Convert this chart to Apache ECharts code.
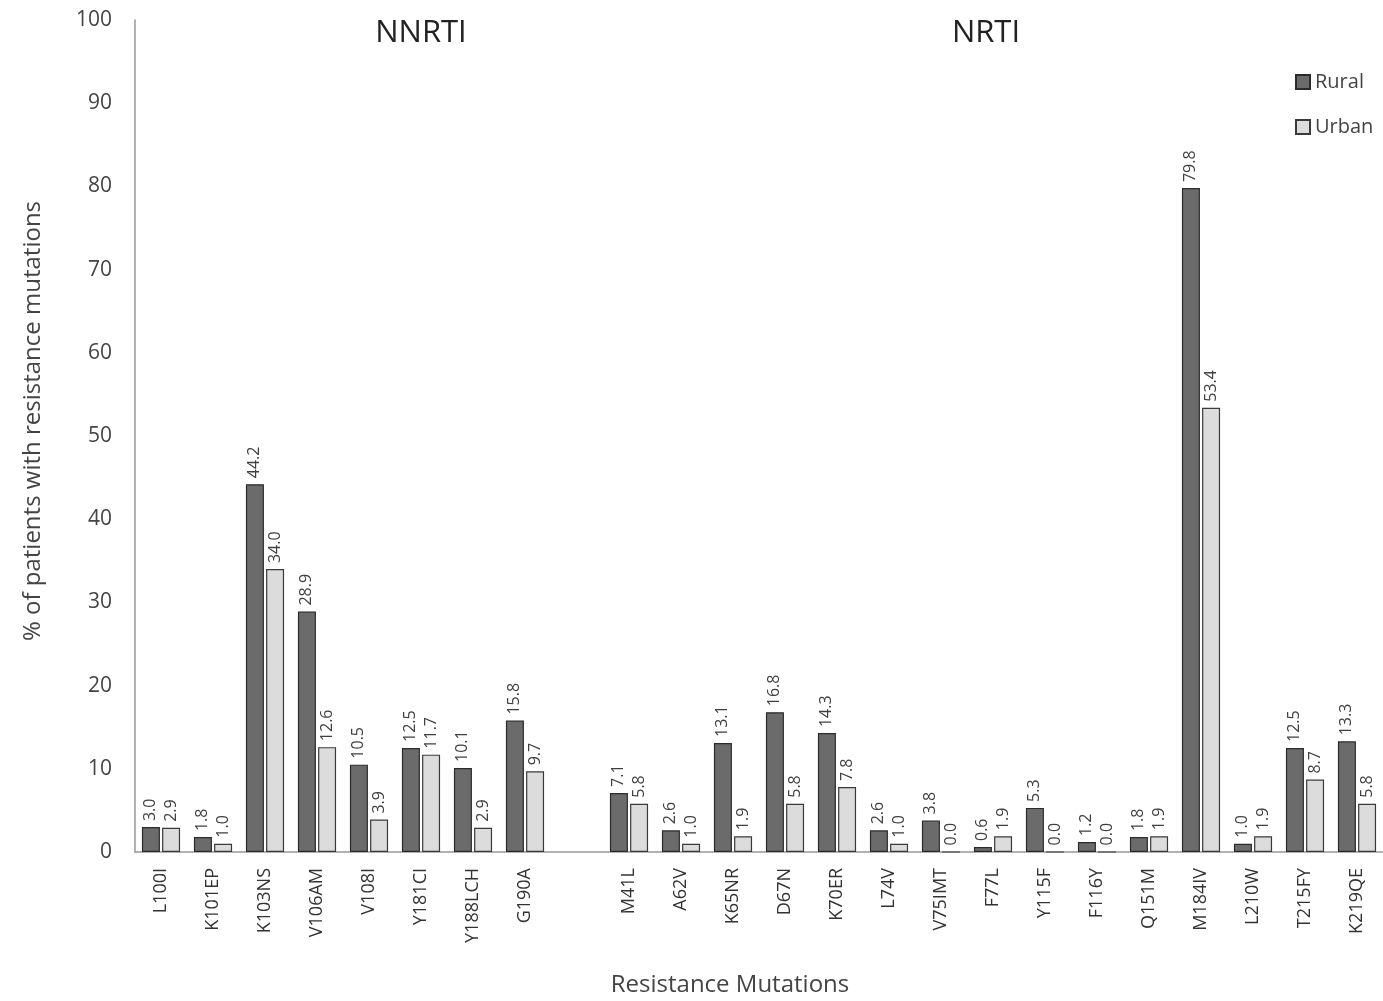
<!DOCTYPE html>
<html>
<head>
<meta charset="utf-8">
<script src="https://cdn.jsdelivr.net/npm/echarts@6/dist/echarts.min.js"></script>
<style>
html,body{margin:0;padding:0;background:#fff;}
#main{width:1383px;height:1001px;}
</style>
</head>
<body>
<div id="main"></div>
<script>
const categories = ['L100I','K101EP','K103NS','V106AM','V108I','Y181CI','Y188LCH','G190A','','M41L','A62V','K65NR','D67N','K70ER','L74V','V75IMT','F77L','Y115F','F116Y','Q151M','M184IV','L210W','T215FY','K219QE'];
const rural = [3.0,1.8,44.2,28.9,10.5,12.5,10.1,15.8,null,7.1,2.6,13.1,16.8,14.3,2.6,3.8,0.6,5.3,1.2,1.8,79.8,1.0,12.5,13.3];
const urban = [2.9,1.0,34.0,12.6,3.9,11.7,2.9,9.7,null,5.8,1.0,1.9,5.8,7.8,1.0,0.0,1.9,0.0,0.0,1.9,53.4,1.9,8.7,5.8];
const yTicks = [0,10,20,30,40,50,60,70,80,90,100];
const groupTitles = ['NNRTI','NRTI'];
const seriesNames = ['Rural','Urban'];

const FONT = '"Open Sans", sans-serif';
const chart = echarts.init(document.getElementById('main'));
const labelCfg = {
  show: true,
  position: 'top',
  rotate: 90,
  align: 'left',
  verticalAlign: 'middle',
  distance: 6,
  color: '#404040',
  fontSize: 16,
  fontFamily: FONT,
  formatter: p => (p.value == null ? '' : Number(p.value).toFixed(1))
};
chart.setOption({
  animation: false,
  backgroundColor: '#fff',
  textStyle: { fontFamily: FONT },
  legend: {
    data: seriesNames,
    orient: 'vertical',
    left: 1290,
    top: 67,
    itemWidth: 14,
    itemHeight: 14,
    itemGap: 25,
    textStyle: { fontSize: 20, color: '#444', fontFamily: FONT },
    icon: 'rect'
  },
  graphic: [
    { type: 'text', x: 421, y: 33, style: { text: groupTitles[0], fontSize: 31, fill: '#222', fontFamily: FONT, align: 'center', verticalAlign: 'middle' } },
    { type: 'text', x: 986, y: 33, style: { text: groupTitles[1], fontSize: 31, fill: '#222', fontFamily: FONT, align: 'center', verticalAlign: 'middle' } },
    { type: 'text', x: 730, y: 985, style: { text: 'Resistance Mutations', fontSize: 24, fill: '#444', fontFamily: FONT, align: 'center', verticalAlign: 'middle' } }
  ],
  grid: { left: 135, top: 20, width: 1255, height: 832, containLabel: false },
  xAxis: {
    type: 'category',
    data: categories,
    axisLine: { lineStyle: { color: '#999', width: 1.5 } },
    axisTick: { show: false },
    axisLabel: { rotate: 90, margin: 16, fontSize: 18, color: '#333', fontFamily: FONT, interval: 0 }
  },
  yAxis: {
    type: 'value',
    min: 0,
    max: 100,
    interval: 10,
    name: '% of patients with resistance mutations',
    nameLocation: 'middle',
    nameGap: 90,
    nameTextStyle: { fontSize: 24, color: '#444', fontFamily: FONT, padding: [0, 0, 0, 30] },
    axisLine: { show: true, lineStyle: { color: '#999', width: 1.5 } },
    axisTick: { show: false },
    splitLine: { show: false },
    axisLabel: { margin: 23, fontSize: 21, color: '#444', fontFamily: FONT, formatter: v => yTicks.includes(v) ? String(v) : '' }
  },
  series: [
    {
      name: seriesNames[0], type: 'bar', data: rural,
      barWidth: 18, barGap: '12%',
      itemStyle: { color: '#6b6b6b', borderColor: '#2b2b2b', borderWidth: 1.2 },
      label: labelCfg
    },
    {
      name: seriesNames[1], type: 'bar', data: urban,
      barWidth: 18,
      itemStyle: { color: '#dcdcdc', borderColor: '#3a3a3a', borderWidth: 1.2 },
      label: labelCfg
    }
  ]
});
</script>
</body>
</html>
